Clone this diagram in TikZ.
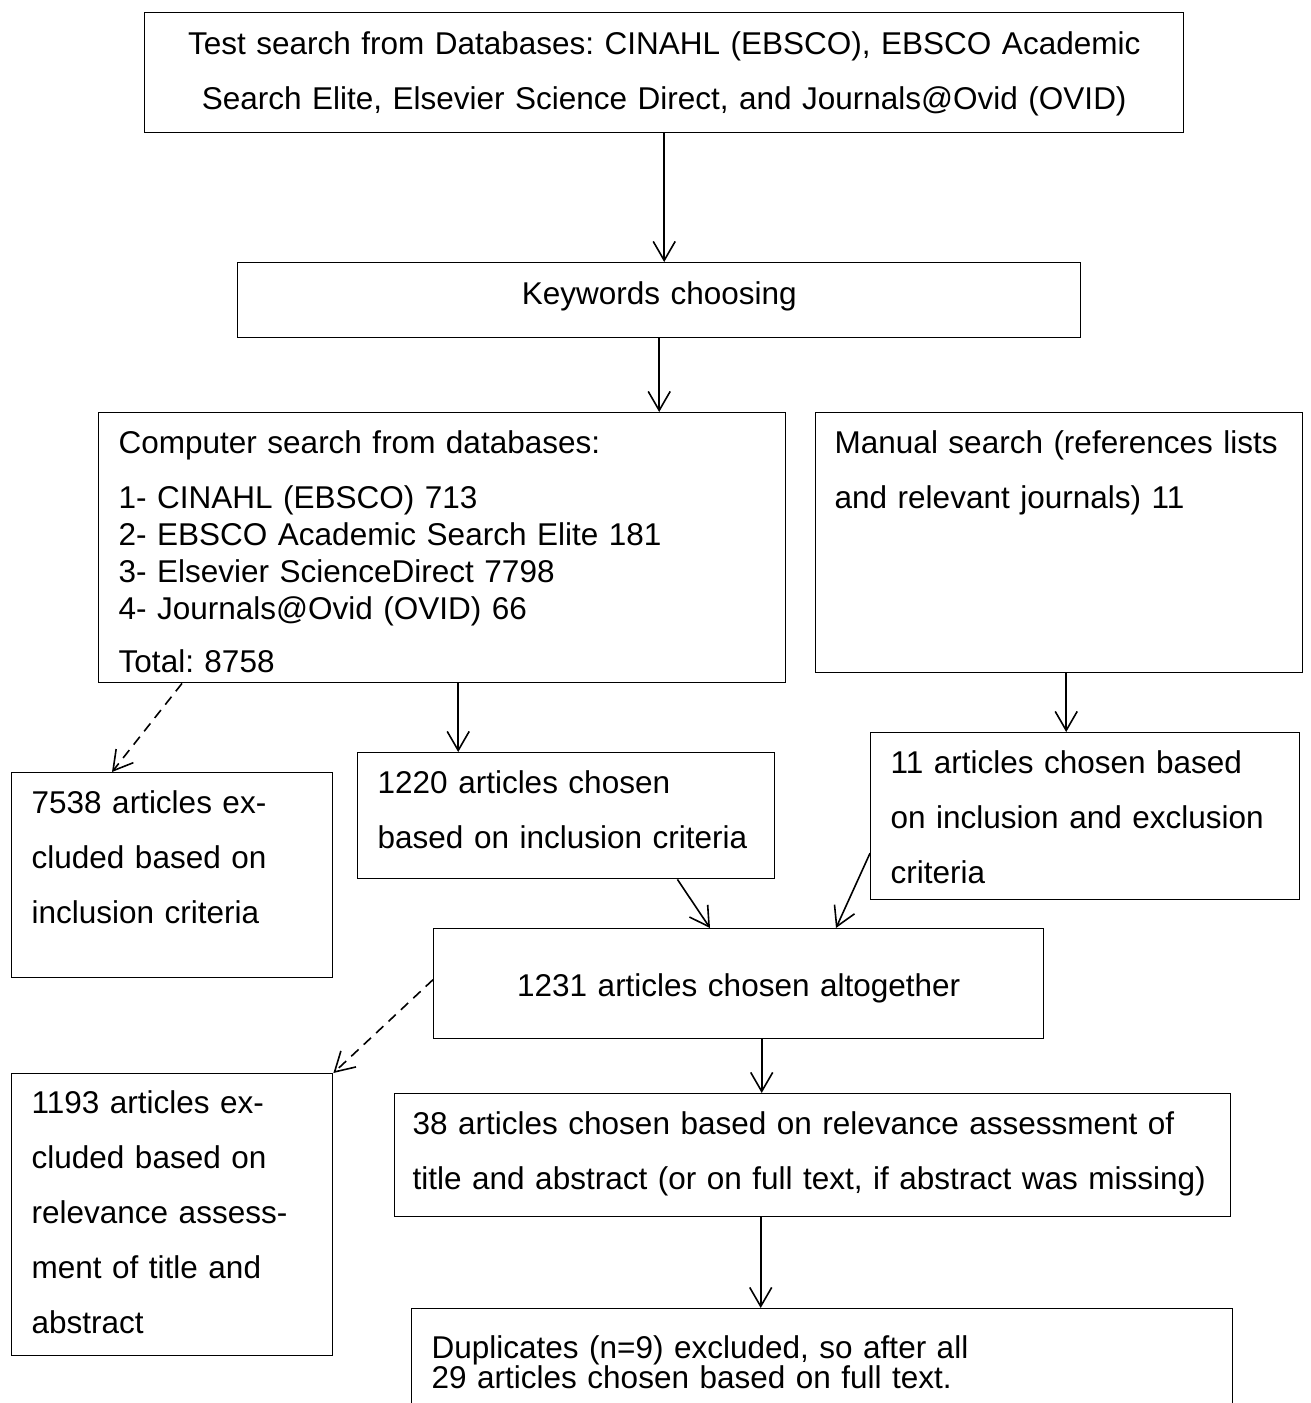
\documentclass[tikz,border=0pt]{standalone}
\usepackage{fontspec}
\setmainfont{Liberation Sans}
\usetikzlibrary{arrows.meta,positioning}
\frenchspacing
\hyphenpenalty=10000

\begin{document}
\begin{tikzpicture}[
    x=1pt,y=-1pt,
    box/.style={rectangle,draw,line width=1.4pt,anchor=north west,inner xsep=20pt,inner ysep=0pt,align=left,font=\fontsize{31.5pt}{55pt}\selectfont},
    arrow/.style={line width=1.6pt,-{Straight Barb[length=19pt,width=22pt]}},
    dasharrow/.style={arrow,dash pattern=on 10pt off 7pt}
]
    \path[use as bounding box,clip] (0,0) rectangle (1310,1403);

    \node[box,align=center,text width=999pt,text height=42pt,text depth=78pt] (test) at (144,12) {Test search from Databases: CINAHL (EBSCO), EBSCO Academic\\Search Elite, Elsevier Science Direct, and Journals@Ovid (OVID)};

    \node[box,align=center,text width=803pt,text height=42pt,text depth=33pt] (kw) at (237,262) {Keywords choosing};

    \node[box,text width=647pt,text height=41pt,text depth=229pt,font=\fontsize{31.5pt}{37pt}\selectfont] (comp) at (98,412) {Computer search from databases:\\[18pt]1- CINAHL (EBSCO) 713\\2- EBSCO Academic Search Elite 181\\3- Elsevier ScienceDirect 7798\\4- Journals@Ovid (OVID) 66\\[16pt]Total: 8758};

    \node[box,inner xsep=19pt,text width=449pt,text height=41pt,text depth=219pt] (manual) at (815,412) {Manual search (references lists\\and relevant journals) 11};

    \node[box,text width=281pt,text height=41pt,text depth=164pt] (excl1) at (11,772) {7538 articles ex-\\cluded based on\\inclusion criteria};

    \node[box,text width=377pt,text height=41pt,text depth=85pt] (incl) at (357,752) {1220 articles chosen\\based on inclusion criteria};

    \node[box,text width=389pt,text height=41pt,text depth=126pt] (man2) at (870,732) {11 articles chosen based\\on inclusion and exclusion\\criteria};

    \node[box,align=center,text width=570pt,text height=68pt,text depth=42pt] (all) at (433,928) {1231 articles chosen altogether};

    \node[box,text width=281pt,text height=40pt,text depth=242pt] (excl2) at (11,1073) {1193 articles ex-\\cluded based on\\relevance assess-\\ment of title and\\abstract};

    \node[box,inner xsep=18pt,text width=800pt,text height=41pt,text depth=82pt] (rel) at (394,1093) {38 articles chosen based on relevance assessment of\\title and abstract (or on full text, if abstract was missing)};

    \node[box,text width=781pt,text height=50pt,text depth=150pt,font=\fontsize{31.5pt}{30pt}\selectfont] (dup) at (411,1308) {Duplicates (n=9) excluded, so after all\\29 articles chosen based on full text.};

    \draw[arrow] (test.south) -- (test.south |- kw.north);
    \draw[arrow] (kw.south) -- (kw.south |- comp.north);
    \draw[arrow] ([xshift=16pt]comp.south) -- ([xshift=16pt]comp.south |- incl.north);
    \draw[arrow] ([xshift=7pt]manual.south) -- ([xshift=7pt]manual.south |- man2.north);
    \draw[dasharrow] ([xshift=84pt]comp.south west) -- ([xshift=101pt]excl1.north west);
    \draw[arrow] ([xshift=-98pt]incl.south east) -- ([xshift=277pt]all.north west);
    \draw[arrow] ([yshift=-37pt]man2.west) -- ([xshift=403pt]all.north west);
    \draw[arrow] ([xshift=23pt]all.south) -- ([xshift=23pt]all.south |- rel.north);
    \draw[dasharrow] ([yshift=4pt]all.west) -- (excl2.north east);
    \draw[arrow] ([xshift=-52pt]rel.south) -- ([xshift=-52pt]rel.south |- dup.north);
\end{tikzpicture}
\end{document}
